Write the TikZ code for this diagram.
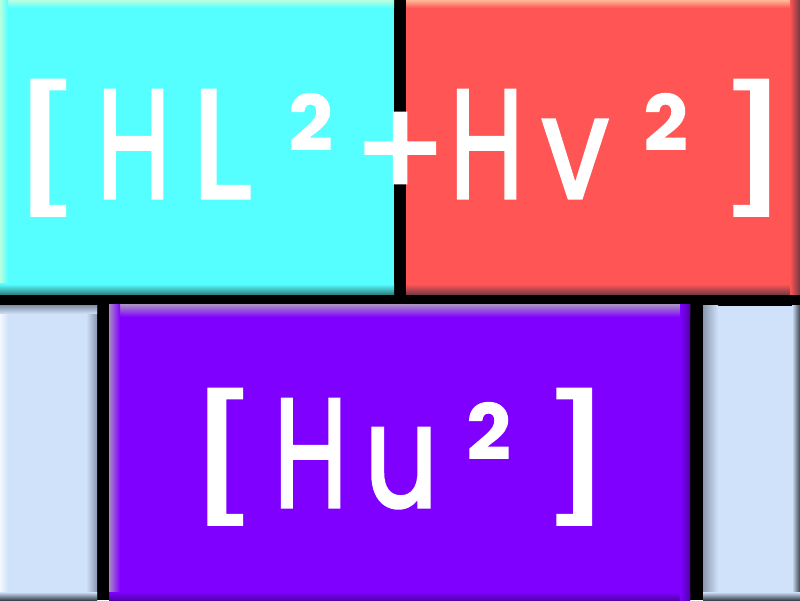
\documentclass[tikz,border=0pt]{standalone}
\usepackage{graphicx}
\usepackage{fontspec}
\newfontfamily\popfont{Poppins}[FakeBold=2.2]
\newcommand\glbox[4]{\makebox[0pt]{\raisebox{#3pt}{\scalebox{#1}[#2]{#4}}}}
\definecolor{cyanbox}{HTML}{55FFFF}
\definecolor{cyanlight}{HTML}{B8FFE0}
\definecolor{cyandark}{HTML}{2E7878}
\definecolor{redbox}{HTML}{FF5555}
\definecolor{redlight}{HTML}{FFB898}
\definecolor{reddark}{HTML}{703844}
\definecolor{palebox}{HTML}{D0E2FA}
\definecolor{palelight}{HTML}{F4F8FF}
\definecolor{palegrey}{HTML}{8A98AE}
\definecolor{paledark}{HTML}{3C4450}
\definecolor{purplebox}{HTML}{7F00FF}
\definecolor{purplelight}{HTML}{A888C8}
\definecolor{purpledark}{HTML}{5200A8}
\begin{document}
\begin{tikzpicture}[x=1pt,y=1pt,
  bigtext/.style={text=white,font=\popfont\fontsize{150}{150}\selectfont,inner sep=0pt,anchor=base west}]
\useasboundingbox (0,0) rectangle (800,600);
\fill[black] (0,0) rectangle (800,600);
% top-left cyan box
\fill[cyanbox] (0,305) rectangle (394,600);
\shade[top color=cyanlight,bottom color=cyanbox] (0,592) rectangle (394,600);
\shade[left color=cyanlight,right color=cyanbox] (0,305) rectangle (8,600);
\shade[top color=cyanbox,bottom color=cyandark] (0,305) rectangle (394,316);
% top-right red box
\fill[redbox] (406,305) rectangle (800,600);
\shade[top color=redlight,bottom color=redbox] (406,592) rectangle (800,600);
\shade[top color=redbox,bottom color=reddark] (406,305) rectangle (800,316);
\shade[left color=redbox,right color=reddark] (790,305) rectangle (800,600);
% bottom-left pale strip
\fill[palebox] (0,0) rectangle (97,294);
\shade[left color=palelight,right color=palebox] (0,0) rectangle (8,294);
\shade[left color=palebox,right color=palegrey] (86,0) rectangle (97,294);
\shade[top color=palegrey,bottom color=palebox] (0,286) rectangle (97,294);
\shade[top color=palebox,bottom color=paledark] (0,0) rectangle (97,8);
% bottom purple box
\fill[purplebox] (109,0) rectangle (690,295);
\shade[top color=purplelight,bottom color=purplebox] (109,283) rectangle (690,295);
\shade[left color=purplelight,right color=purplebox] (109,0) rectangle (120,295);
\shade[top color=purplebox,bottom color=purpledark] (109,0) rectangle (690,8);
\shade[left color=purplebox,right color=purpledark] (680,0) rectangle (690,295);
% bottom-right pale strip
\fill[palebox] (703,0) rectangle (800,294);
\shade[left color=palegrey,right color=palebox] (703,0) rectangle (718,294);
\shade[left color=palebox,right color=paledark] (792,0) rectangle (800,294);
\shade[top color=palebox,bottom color=paledark] (703,0) rectangle (800,8);
% texts
\node[bigtext] (top) at (46,402) {%
\glbox{1.18}{0.806}{5}{[}\hspace{87.5pt}%
\glbox{0.71}{1.03}{0}{H}\hspace{88pt}%
\glbox{0.93}{1.03}{0}{L}\hspace{90pt}%
\glbox{0.94}{1.0}{-3}{²}\hspace{88.5pt}%
\glbox{0.9}{0.91}{0}{+}\hspace{86.5pt}%
\glbox{0.71}{1.03}{0}{H}\hspace{88.5pt}%
\glbox{0.8}{0.95}{0}{v}\hspace{91.5pt}%
\glbox{0.94}{1.0}{-3}{²}\hspace{86.5pt}%
\glbox{1.18}{0.806}{5}{]}};
\node[bigtext] (bottom) at (223,93) {%
\glbox{1.18}{0.806}{5}{[}\hspace{87.5pt}%
\glbox{0.71}{1.03}{0}{H}\hspace{90.5pt}%
\glbox{0.77}{0.96}{0}{u}\hspace{88.5pt}%
\glbox{0.94}{1.0}{-3}{²}\hspace{86.5pt}%
\glbox{1.18}{0.806}{5}{]}};
\end{tikzpicture}
\end{document}
